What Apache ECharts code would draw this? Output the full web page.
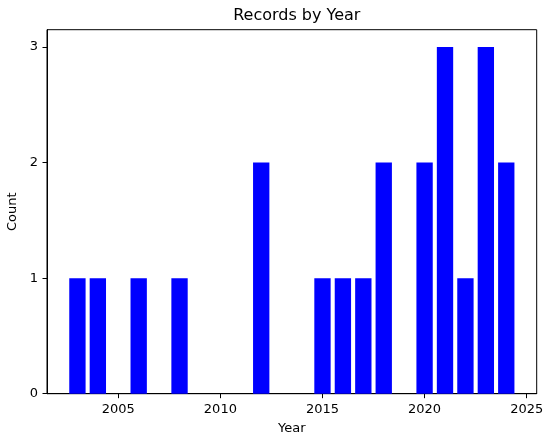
<!DOCTYPE html>
<html>
<head>
<meta charset="utf-8">
<script src="https://cdn.jsdelivr.net/npm/echarts@6/dist/echarts.min.js"></script>
<style>html,body{margin:0;padding:0;background:#fff}#c{width:550px;height:437px}</style>
</head>
<body>
<div id="c"></div>
<script>
const years = [2003, 2004, 2006, 2008, 2012, 2015, 2016, 2017, 2018, 2020, 2021, 2022, 2023, 2024];
const counts = [1, 1, 1, 1, 2, 1, 1, 1, 2, 2, 3, 1, 3, 2];
const xTicks = [2005, 2010, 2015, 2020, 2025];
const yTicks = [0, 1, 2, 3];

const font = 'DejaVu Sans';
const chart = echarts.init(document.getElementById('c'), null, {renderer: 'canvas'});
const barHalf = 0.4;
chart.setOption({
  animation: false,
  backgroundColor: '#fff',
  title: {
    text: 'Records by Year', left: 291.8, top: 3, textAlign: 'center',
    textStyle: {fontFamily: font, fontSize: 16, fontWeight: 'normal', color: '#000'}
  },
  grid: {left: 47, right: 13.3, top: 29.7, bottom: 43.3, containLabel: false, outerBoundsMode: 'none',
         show: true, borderColor: '#000', borderWidth: 1, backgroundColor: 'transparent'},
  xAxis: {
    type: 'value', min: 2001.51, max: 2025.49,
    name: 'Year', nameLocation: 'middle', nameGap: 28,
    nameTextStyle: {fontFamily: font, fontSize: 13, color: '#000'},
    axisLine: {show: true, lineStyle: {color: '#000', width: 1}},
    axisTick: {show: true, customValues: xTicks, length: 4.5, lineStyle: {color: '#000'}},
    axisLabel: {customValues: xTicks, margin: 9, fontFamily: font, fontSize: 13, color: '#000', formatter: v => String(v)},
    splitLine: {show: false}
  },
  yAxis: {
    type: 'value', min: 0, max: 3.15,
    name: 'Count', nameLocation: 'middle', nameGap: 26.5, nameRotate: 90,
    nameTextStyle: {fontFamily: font, fontSize: 13, color: '#000'},
    axisLine: {show: true, lineStyle: {color: '#000', width: 1}},
    axisTick: {show: true, customValues: yTicks, length: 4.5, lineStyle: {color: '#000'}},
    axisLabel: {customValues: yTicks, margin: 9, fontFamily: font, fontSize: 13, color: '#000'},
    splitLine: {show: false}
  },
  series: [{
    type: 'custom',
    data: years.map((y, i) => [y, counts[i]]),
    encode: {x: 0, y: 1},
    renderItem: function (params, api) {
      const x = api.value(0), v = api.value(1);
      const p1 = api.coord([x - barHalf, v]);
      const p2 = api.coord([x + barHalf, 0]);
      return {
        type: 'rect',
        shape: {x: p1[0], y: p1[1], width: p2[0] - p1[0], height: p2[1] - p1[1]},
        style: {fill: '#0000ff'}
      };
    }
  }]
});
</script>
</body>
</html>
